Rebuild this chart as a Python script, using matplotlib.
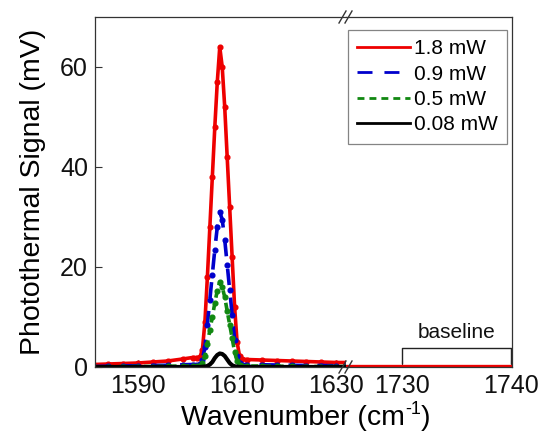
import matplotlib
matplotlib.use("Agg")
import matplotlib.pyplot as plt
from matplotlib.lines import Line2D

plt.rcParams["font.family"] = ["Liberation Sans", "DejaVu Sans"]

# wavenumber grid (cm^-1), left segment
wn_left = [1581, 1584, 1587, 1590, 1593, 1596, 1599, 1601, 1602,
           1602.5, 1603, 1603.5, 1604, 1604.5, 1605, 1605.5, 1606, 1606.5,
           1607, 1607.5, 1608, 1608.5, 1609, 1609.5, 1610, 1610.5, 1611,
           1612, 1615, 1618, 1621, 1624, 1627, 1630, 1632]

# photothermal signal (mV) for each pump power, left segment
sig_18 = [0.5, 0.6, 0.7, 0.8, 1.0, 1.2, 1.6, 1.9, 1.9,
          2.0, 3.5, 9, 18, 28, 38, 48, 57, 64,
          60, 52, 42, 32, 22, 12, 5, 2.2, 1.6,
          1.5, 1.4, 1.3, 1.2, 1.1, 1.0, 0.9, 0.9]
sig_09 = [0.1, 0.15, 0.2, 0.25, 0.3, 0.35, 0.45, 0.5, 0.5,
          0.6, 1.5, 4, 8.5, 13.5, 18.5, 23.5, 28, 31,
          29.5, 25.5, 20.5, 15.5, 10.5, 5.5, 2.2, 0.8, 0.5,
          0.5, 0.45, 0.4, 0.35, 0.3, 0.3, 0.25, 0.25]
sig_05 = [0.05, 0.05, 0.1, 0.1, 0.1, 0.15, 0.2, 0.2, 0.2,
          0.25, 0.8, 2.2, 4.6, 7.4, 10, 12.8, 15.3, 17,
          16, 14, 11.2, 8.5, 5.8, 3, 1.2, 0.4, 0.2,
          0.2, 0.2, 0.15, 0.15, 0.1, 0.1, 0.1, 0.1]
sig_008 = [0, 0, 0, 0, 0, 0, 0, 0, 0,
           0, 0.05, 0.1, 0.2, 0.5, 1.0, 1.8, 2.4, 2.7,
           2.6, 2.2, 1.5, 0.8, 0.35, 0.15, 0.05, 0, 0,
           0, 0, 0, 0, 0, 0, 0, 0]

# right segment (baseline region)
wn_right = [1724.8, 1727, 1730, 1733, 1736, 1738, 1740]
sig_18_r = [0.2, 0.2, 0.2, 0.2, 0.2, 0.2, 0.2]
sig_09_r = [0.05, 0.05, 0.05, 0.05, 0.05, 0.05, 0.05]
sig_05_r = [0.03, 0.03, 0.03, 0.03, 0.03, 0.03, 0.03]
sig_008_r = [0, 0, 0, 0, 0, 0, 0]

labels = ["1.8 mW", "0.9 mW", "0.5 mW", "0.08 mW"]
colors = ["#ee0000", "#0000cc", "#118811", "#000000"]

W, H = 543, 432
fig = plt.figure(figsize=(W / 100, H / 100), dpi=100)
ax1 = fig.add_axes([95 / W, (H - 367) / H, 251 / W, 350 / H])
ax2 = fig.add_axes([346 / W, (H - 367) / H, 166 / W, 350 / H])

series_left = [sig_18, sig_09, sig_05, sig_008]
series_right = [sig_18_r, sig_09_r, sig_05_r, sig_008_r]
styles = [dict(ls="-", lw=2.6, marker="o", ms=3.4),
          dict(ls=(0, (4.5, 3.5)), lw=2.6, marker="o", ms=3.4),
          dict(ls=(0, (2.0, 1.5)), lw=2.6, marker="o", ms=3.4),
          dict(ls="-", lw=3.0, marker=None)]

for ys, c, st in zip(series_left, colors, styles):
    ax1.plot(wn_left, ys, color=c, **st)
for yr, c in zip(series_right[::-1], colors[::-1]):
    ax2.plot(wn_right, yr, color=c, lw=2.4)

ax1.set_xlim(1581.3, 1632.0)
ax2.set_xlim(1724.8, 1740.1)
for ax in (ax1, ax2):
    ax.set_ylim(0, 70)
    for sp in ax.spines.values():
        sp.set_color("#333333")
        sp.set_linewidth(0.9)
    ax.tick_params(direction="in", length=5, width=0.8, labelsize=18, pad=5,
                   colors="#333333", labelcolor="#111111")

ax1.spines["right"].set_visible(False)
ax2.spines["left"].set_visible(False)
ax1.set_xticks([1590, 1610, 1630])
ax1.set_yticks([0, 20, 40, 60])
ax2.set_xticks([1730, 1740])
ax2.set_yticks([])

# baseline bracket
ax2.plot([1730, 1730, 1740, 1740], [0.8, 3.8, 3.8, 0.8], color="#222222", lw=1.0, clip_on=False)
ax2.text(1735.0, 5.8, "baseline", ha="center", va="baseline", fontsize=15, color="#111111")

# axis break marks
for y0 in (17, 367):
    for dx in (0, 6):
        fig.add_artist(Line2D([(339 + dx) / W, (346 + dx) / W],
                              [(H - (y0 + 6)) / H, (H - (y0 - 6)) / H],
                              color="#333333", lw=1.0))

# x label with a plain hyphen superscript
fig.canvas.draw()
renderer = fig.canvas.get_renderer()
xl_main = fig.text(0, 7 / H, "Wavenumber (cm", ha="left", va="baseline", fontsize=20.5)
xl_sup = fig.text(0, 18 / H, "-1", ha="left", va="baseline", fontsize=13)
xl_end = fig.text(0, 7 / H, ")", ha="left", va="baseline", fontsize=20.5)
w_main = xl_main.get_window_extent(renderer).width
w_sup = xl_sup.get_window_extent(renderer).width
w_end = xl_end.get_window_extent(renderer).width
x0 = 306 - (w_main + w_sup + w_end) / 2
xl_main.set_x(x0 / W)
xl_sup.set_x((x0 + w_main) / W)
xl_end.set_x((x0 + w_main + w_sup) / W)

fig.text(33 / W, (H - 192) / H, "Photothermal Signal (mV)", ha="center", va="center",
         rotation=90, fontsize=20.5)

# legend handles get their own dash patterns (the legend shows longer dashes)
leg_ls = ["-", (0, (5.4, 4.3)), (0, (2.5, 1.8)), "-"]
handles = [Line2D([], [], color=c, ls=ls, lw=2.0) for c, ls in zip(colors, leg_ls)]
leg = fig.legend(handles, labels, loc="upper right", bbox_to_anchor=(507 / W, (H - 30) / H),
                 fontsize=15, frameon=True, fancybox=False, handlelength=2.5,
                 handletextpad=0.2, labelspacing=0.3, borderpad=0.45, borderaxespad=0)
leg.get_frame().set_edgecolor("#666666")
leg.get_frame().set_linewidth(0.9)

fig.savefig("out.png", dpi=100)
